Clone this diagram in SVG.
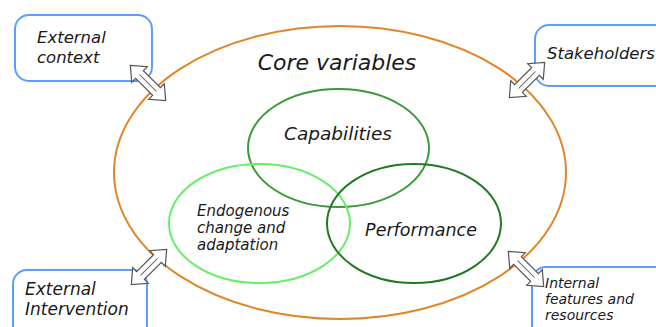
<svg xmlns="http://www.w3.org/2000/svg" width="656" height="327" viewBox="0 0 656 327">
<style>
.t{font-family:"DejaVu Sans","Liberation Sans",sans-serif;font-style:italic;fill:#1a1a1a}
.box{fill:#fff;stroke:#5c9dff;stroke-width:2}
.arr{fill:#fff;stroke:#555;stroke-width:1.2;stroke-linejoin:miter}
.in{fill:none;stroke:#555;stroke-width:1}
</style>
<defs>
<g id="dbl">
<path class="arr" d="M-25,0 L-12,-11 L-12,-5.5 L12,-5.5 L12,-11 L25,0 L12,11 L12,5.5 L-12,5.5 L-12,11 Z"/>
<path class="in" d="M-12,0 L12,0"/>
</g>
</defs>
<rect width="656" height="327" fill="#fff"/>
<g id="core">
<ellipse cx="340" cy="172.5" rx="226" ry="146.5" fill="none" stroke="#e0862a" stroke-width="2"/>
<text class="t" x="337" y="70" font-size="22" text-anchor="middle">Core variables</text>
</g>
<g id="capabilities">
<ellipse cx="338.5" cy="148" rx="90.5" ry="59" fill="none" stroke="#3a9a3a" stroke-width="2"/>
<text class="t" x="338" y="140" font-size="18.5" text-anchor="middle">Capabilities</text>
</g>
<g id="endogenous">
<ellipse cx="259.5" cy="223.5" rx="90.5" ry="59.5" fill="none" stroke="#66ee66" stroke-width="2"/>
<text class="t" x="197" y="216" font-size="15">Endogenous</text>
<text class="t" x="197" y="233" font-size="15">change and</text>
<text class="t" x="197" y="250" font-size="15">adaptation</text>
</g>
<g id="performance">
<ellipse cx="414" cy="223.5" rx="87" ry="59.5" fill="none" stroke="#1f7a1f" stroke-width="2"/>
<text class="t" x="421" y="236" font-size="17.5" text-anchor="middle">Performance</text>
</g>
<g id="external-context">
<rect class="box" x="15" y="15" width="137" height="66" rx="14"/>
<text class="t" x="37" y="43" font-size="16.5">External</text>
<text class="t" x="37" y="63" font-size="16.5">context</text>
</g>
<g id="stakeholders">
<rect class="box" x="535" y="25" width="135" height="61" rx="14"/>
<text class="t" x="547" y="59" font-size="16.5">Stakeholders</text>
</g>
<g id="external-intervention">
<rect class="box" x="13" y="270" width="134" height="80" rx="14"/>
<text class="t" x="25" y="295" font-size="17">External</text>
<text class="t" x="25" y="315" font-size="17">Intervention</text>
</g>
<g id="internal-features">
<rect class="box" x="532" y="267" width="140" height="80" rx="14"/>
<text class="t" x="545" y="288" font-size="14">Internal</text>
<text class="t" x="545" y="304" font-size="14">features and</text>
<text class="t" x="545" y="320" font-size="14">resources</text>
</g>
<g id="connectors">
<use href="#dbl" transform="translate(148,83) rotate(45)"/>
<use href="#dbl" transform="translate(527,80) rotate(-45)"/>
<use href="#dbl" transform="translate(149,267) rotate(-45)"/>
<use href="#dbl" transform="translate(526,269) rotate(45)"/>
</g>
</svg>
